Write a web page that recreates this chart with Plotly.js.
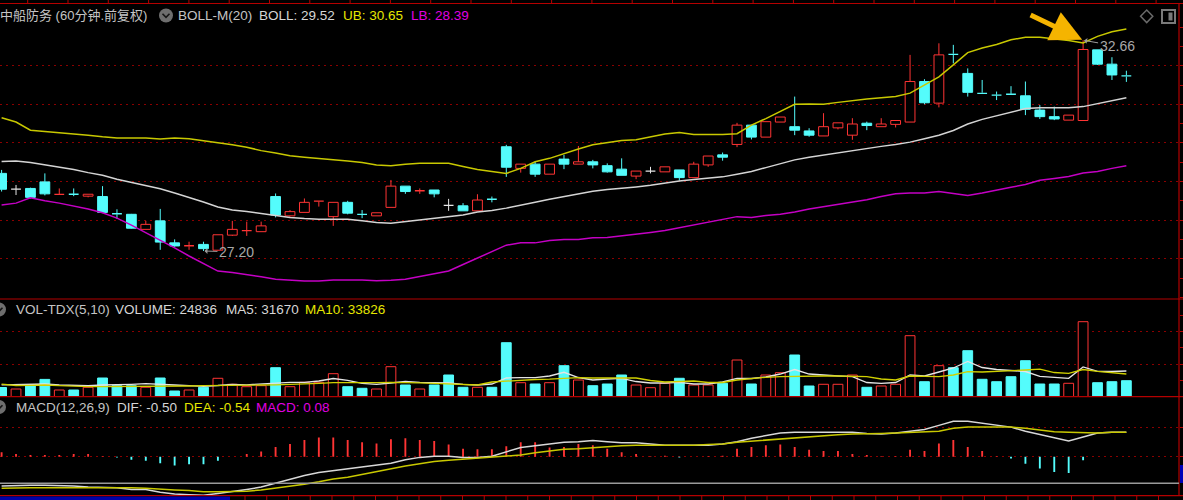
<!DOCTYPE html>
<html><head><meta charset="utf-8">
<script src="https://cdn.plot.ly/plotly-3.0.1.min.js"></script>
<style>html,body{margin:0;padding:0;background:#000;}#chart{width:1183px;height:500px;}</style>
</head><body><div id="chart"></div>
<script>
// ---------- DATA (60-minute bars, 中船防务) ----------
const openP = [29.21,28.80,28.82,28.99,28.66,28.68,28.62,28.61,28.18,28.15,
27.76,27.98,27.41,27.32,27.37,27.22,27.61,27.72,27.70,28.61,
28.11,28.20,28.48,28.09,28.46,28.16,28.11,28.33,28.88,28.75,
28.78,28.38,28.37,28.24,28.55,29.90,29.34,29.45,29.19,29.58,
29.45,29.51,29.41,29.32,29.14,29.27,29.25,29.30,29.10,29.43,
29.69,29.96,30.46,30.15,30.54,30.42,30.31,30.18,30.39,30.20,
30.51,30.42,30.48,30.54,31.59,31.03,32.31,31.80,31.30,31.25,
31.27,31.22,30.85,30.68,30.59,30.58,32.41,32.04,31.75];
const closeP = [28.80,28.80,28.59,28.68,28.67,28.66,28.67,28.20,28.15,27.79,
27.89,27.43,27.33,27.35,27.26,27.62,27.76,27.73,27.85,28.13,
28.22,28.46,28.50,28.46,28.18,28.14,28.19,28.88,28.74,28.77,
28.68,28.38,28.24,28.52,28.53,29.37,29.45,29.19,29.45,29.45,
29.51,29.43,29.25,29.16,29.27,29.27,29.38,29.10,29.45,29.66,
29.63,30.46,30.15,30.55,30.67,30.33,30.20,30.42,30.52,30.49,
30.45,30.49,30.58,31.59,31.04,32.28,32.28,31.31,31.27,31.23,
31.25,30.87,30.68,30.62,30.72,32.42,32.04,31.76,31.72];
const highP = [29.30,28.91,28.84,29.21,28.82,28.82,28.67,28.88,28.28,28.16,
27.98,28.29,27.50,27.44,27.44,27.62,27.98,27.96,27.96,28.69,
28.26,28.56,28.50,28.46,28.50,28.26,28.19,29.04,28.88,28.82,
28.78,28.55,28.44,28.67,28.61,29.95,29.45,29.51,29.45,29.69,
29.92,29.56,29.47,29.60,29.27,29.38,29.38,29.30,29.51,29.66,
29.75,30.52,30.46,30.55,30.67,31.20,30.38,30.77,30.52,30.64,
30.55,30.64,30.58,32.28,31.65,32.58,32.54,31.93,31.63,31.33,
31.47,31.59,30.98,30.94,30.72,32.66,32.41,32.22,31.87];
const lowP = [28.74,28.65,28.56,28.64,28.65,28.62,28.59,28.18,28.03,27.78,
27.76,27.23,27.31,27.23,27.20,27.21,27.59,27.59,27.70,28.07,
28.09,28.20,28.35,27.85,28.15,28.05,28.11,28.33,28.68,28.68,
28.59,28.24,28.24,28.24,28.46,29.12,29.23,29.12,29.19,29.32,
29.45,29.34,29.23,29.16,29.06,29.21,29.25,29.02,29.10,29.38,
29.54,29.89,30.09,30.15,30.54,30.20,30.16,30.18,30.35,30.08,
30.33,30.42,30.40,30.54,31.00,30.92,32.06,31.20,31.27,31.11,
31.25,30.72,30.62,30.59,30.59,30.58,32.02,31.63,31.58];
const bollUB = [30.65,30.54,30.33,30.30,30.27,30.24,30.20,30.16,30.13,30.13,
30.13,30.10,30.13,30.11,30.06,30.01,29.95,29.89,29.80,29.74,
29.67,29.63,29.60,29.56,29.53,29.49,29.43,29.41,29.45,29.47,
29.47,29.47,29.39,29.31,29.26,29.21,29.34,29.51,29.60,29.73,
29.84,29.95,30.01,30.06,30.08,30.15,30.23,30.27,30.22,30.22,
30.22,30.24,30.46,30.63,30.81,31.00,31.01,31.00,31.05,31.10,
31.14,31.17,31.20,31.29,31.50,31.71,32.02,32.34,32.46,32.55,
32.67,32.74,32.74,32.70,32.65,32.59,32.76,32.88,32.95];
const bollMid = [29.52,29.53,29.49,29.43,29.38,29.31,29.23,29.16,29.06,28.98,
28.90,28.81,28.70,28.59,28.47,28.34,28.26,28.22,28.17,28.12,
28.07,28.04,28.02,28.02,28.02,27.98,27.94,27.92,27.96,28.00,
28.04,28.08,28.13,28.21,28.25,28.31,28.38,28.46,28.54,28.61,
28.69,28.75,28.79,28.82,28.86,28.90,28.96,29.01,29.05,29.08,
29.12,29.19,29.26,29.36,29.47,29.56,29.63,29.69,29.74,29.80,
29.85,29.91,29.96,30.02,30.11,30.20,30.32,30.49,30.61,30.70,
30.79,30.89,30.91,30.91,30.91,30.94,31.02,31.09,31.17];
const bollLB = [28.39,28.44,28.58,28.50,28.44,28.36,28.29,28.19,28.05,27.87,
27.68,27.48,27.28,27.07,26.88,26.68,26.64,26.59,26.53,26.47,
26.44,26.42,26.42,26.45,26.45,26.45,26.43,26.44,26.47,26.54,
26.62,26.68,26.85,27.02,27.18,27.35,27.41,27.41,27.47,27.50,
27.50,27.54,27.55,27.59,27.63,27.68,27.73,27.80,27.87,27.94,
28.01,28.09,28.07,28.12,28.15,28.21,28.29,28.35,28.42,28.48,
28.53,28.61,28.68,28.70,28.70,28.74,28.69,28.64,28.70,28.78,
28.85,28.92,29.03,29.08,29.13,29.22,29.26,29.34,29.41];
const volume = [24836,20800,29700,46700,18100,18100,25400,50500,29700,29700,
25400,50500,15400,18100,25400,49700,33500,27000,29700,78300,
27000,38900,38900,62100,27000,22700,20800,81000,31600,20800,
31600,58600,25400,25400,25400,145800,37800,34300,37800,83700,
45100,29700,34300,58600,31600,24300,36200,49700,31600,31600,
36200,99100,34300,58600,64800,112600,28900,33500,33500,58600,
25400,28900,33500,164700,40500,83700,78300,124200,47000,40500,
54000,97200,34300,34300,36200,202500,37800,40500,43200];
const volMA5 = [31670,32100,32900,34300,31600,29700,29700,31600,33500,33500,
35100,34300,31600,29700,28100,30200,33500,32100,34300,37000,
38900,38900,42400,49100,44300,36200,33500,37000,41600,38900,
38900,37000,33500,31600,34300,50500,51300,51300,55900,65900,
51800,45100,47800,49700,41000,37000,37000,38900,34300,34300,
39700,49700,49100,53200,61300,73400,61300,57800,55900,54000,
38300,36200,38300,58600,55900,66700,77500,95000,78800,73400,
70700,68000,55100,51800,49700,80200,68600,68000,69400];
const volMA10 = [33826,30200,30800,31600,29700,28100,27000,27000,27000,27500,
28900,28400,27500,28900,29700,29700,29700,30800,31600,32100,
32900,33500,36200,37800,37800,36500,38100,38900,38900,37500,
36200,34300,33500,31600,39700,42400,45100,46400,47300,48600,
51300,50500,50500,49700,50500,43700,39700,41000,42400,38300,
38300,45100,49100,52400,54000,55100,55900,55900,55900,55100,
54000,47800,45100,55900,55100,54000,58600,67500,66700,68000,
69400,72100,74300,65300,63200,73400,68600,64800,61300];
const macdDIF = [-0.50,-0.49,-0.49,-0.49,-0.49,-0.50,-0.52,-0.53,-0.53,-0.56,
-0.56,-0.61,-0.64,-0.65,-0.66,-0.63,-0.60,-0.56,-0.52,-0.45,
-0.39,-0.32,-0.27,-0.24,-0.21,-0.18,-0.15,-0.11,-0.05,-0.01,
0.01,0.01,-0.01,-0.01,0.01,0.08,0.16,0.19,0.22,0.25,
0.26,0.28,0.26,0.24,0.24,0.22,0.20,0.20,0.20,0.20,
0.22,0.26,0.32,0.36,0.41,0.42,0.42,0.42,0.42,0.42,
0.40,0.39,0.41,0.44,0.47,0.54,0.61,0.61,0.58,0.55,
0.51,0.44,0.38,0.32,0.27,0.34,0.41,0.42,0.42];
const macdDEA = [-0.54,-0.53,-0.53,-0.53,-0.53,-0.53,-0.52,-0.52,-0.52,-0.53,
-0.54,-0.56,-0.57,-0.58,-0.60,-0.60,-0.60,-0.59,-0.57,-0.54,
-0.51,-0.47,-0.43,-0.38,-0.35,-0.30,-0.26,-0.21,-0.16,-0.12,
-0.08,-0.06,-0.04,-0.03,0.00,0.01,0.03,0.07,0.10,0.13,
0.14,0.16,0.18,0.19,0.20,0.20,0.20,0.19,0.20,0.21,
0.22,0.25,0.27,0.29,0.31,0.33,0.34,0.36,0.38,0.39,
0.39,0.40,0.41,0.42,0.42,0.44,0.49,0.51,0.51,0.51,
0.51,0.49,0.46,0.43,0.42,0.41,0.41,0.42,0.42];
const macdBar = [0.08,0.05,0.03,0.03,0.03,0.05,0.05,0.01,-0.01,-0.05,
-0.07,-0.11,-0.15,-0.13,-0.13,-0.07,0.00,0.05,0.09,0.17,
0.22,0.29,0.33,0.33,0.29,0.25,0.23,0.30,0.32,0.29,
0.27,0.21,0.14,0.13,0.13,0.18,0.25,0.25,0.16,0.17,
0.22,0.20,0.14,0.08,0.05,0.01,0.02,-0.01,0.00,0.01,
0.02,0.14,0.17,0.20,0.21,0.17,0.12,0.10,0.10,0.05,
0.03,0.01,0.01,0.12,0.10,0.23,0.29,0.17,0.10,0.01,
-0.03,-0.12,-0.20,-0.26,-0.28,-0.06,0.00,0.00,0.00];
const lowLabel = '27.20', highLabel = '32.66';
const lowIdx = 14, highIdx = 75;

// ---------- STYLE / GEOMETRY ----------
const W = 1183, H = 500, PW = 1179;
const px = v => v / PW, py = v => 1 - v / H;
const RED = '#ff3434', CYAN = '#54fcfc', WHITE = '#e6e6e6';
const GRID = '#8a0000', BORDER = '#b40000';
const N = openP.length;
const idx = openP.map((_, i) => i);
const HALF = 0.34;

function dir(i) { return closeP[i] > openP[i] ? 1 : (closeP[i] < openP[i] ? -1 : 0); }
function volUp(i) { const d = dir(i); if (d !== 0) return d > 0; return i === 0 || closeP[i] >= closeP[i - 1]; }
const colOf = d => d > 0 ? RED : (d < 0 ? CYAN : WHITE);

// bodies
const bX = [], bBase = [], bH = [], bFill = [], bLine = [];
const flat = { '1': { x: [], y: [] }, '-1': { x: [], y: [] }, '0': { x: [], y: [] } };
const wick = { '1': { x: [], y: [] }, '-1': { x: [], y: [] }, '0': { x: [], y: [] } };
for (let i = 0; i < N; i++) {
  const d = dir(i), top = Math.max(openP[i], closeP[i]), bot = Math.min(openP[i], closeP[i]);
  const k = String(d);
  if (top - bot < 0.035) {
    const m = (top + bot) / 2;
    flat[k].x.push(i - HALF, i + HALF, null); flat[k].y.push(m, m, null);
  } else {
    bX.push(i); bBase.push(bot); bH.push(top - bot);
    bFill.push(d > 0 ? '#000000' : CYAN); bLine.push(d > 0 ? RED : CYAN);
  }
  if (highP[i] > top) { wick[k].x.push(i, i, null); wick[k].y.push(highP[i], top, null); }
  if (lowP[i] < bot) { wick[k].x.push(i, i, null); wick[k].y.push(bot, lowP[i], null); }
}

const traces = [];
traces.push({ type: 'bar', x: bX, base: bBase, y: bH, width: 0.68, xaxis: 'x', yaxis: 'y',
  marker: { color: bFill, line: { color: bLine, width: 1 } }, hoverinfo: 'skip' });
for (const k of ['1', '-1', '0']) {
  const c = colOf(Number(k));
  traces.push({ type: 'scatter', mode: 'lines', x: wick[k].x, y: wick[k].y, xaxis: 'x', yaxis: 'y', line: { color: c, width: 1 }, hoverinfo: 'skip' });
  traces.push({ type: 'scatter', mode: 'lines', x: flat[k].x, y: flat[k].y, xaxis: 'x', yaxis: 'y', line: { color: c, width: 1.3 }, hoverinfo: 'skip' });
}
traces.push({ type: 'scatter', mode: 'lines', x: idx, y: bollUB, xaxis: 'x', yaxis: 'y', line: { color: '#c8c800', width: 1.5 } });
traces.push({ type: 'scatter', mode: 'lines', x: idx, y: bollMid, xaxis: 'x', yaxis: 'y', line: { color: '#d4d4d4', width: 1.5 } });
traces.push({ type: 'scatter', mode: 'lines', x: idx, y: bollLB, xaxis: 'x', yaxis: 'y', line: { color: '#c400c4', width: 1.5 } });

// volume
const vUp = idx.map(volUp);
traces.push({ type: 'bar', x: idx, y: volume, width: 0.68, xaxis: 'x', yaxis: 'y2',
  marker: { color: vUp.map(u => u ? '#000000' : CYAN), line: { color: vUp.map(u => u ? RED : CYAN), width: 1 } } });
traces.push({ type: 'scatter', mode: 'lines', x: idx, y: volMA5, xaxis: 'x', yaxis: 'y2', line: { color: '#e4e4e4', width: 1.3 } });
traces.push({ type: 'scatter', mode: 'lines', x: idx, y: volMA10, xaxis: 'x', yaxis: 'y2', line: { color: '#d0d000', width: 1.3 } });

// MACD
traces.push({ type: 'bar', x: idx, y: macdBar, width: 0.13, xaxis: 'x', yaxis: 'y3',
  marker: { color: macdBar.map(v => v >= 0 ? RED : CYAN), line: { width: 0 } } });
traces.push({ type: 'scatter', mode: 'lines', x: idx, y: macdDIF, xaxis: 'x', yaxis: 'y3', line: { color: '#d8d8d8', width: 1.5 } });
traces.push({ type: 'scatter', mode: 'lines', x: idx, y: macdDEA, xaxis: 'x', yaxis: 'y3', line: { color: '#c8c800', width: 1.5 } });

// ---------- LAYOUT ----------
const xPerBar = 14.42, x0px = 1.6;
const xRange = [(0 - x0px) / xPerBar, (PW - x0px) / xPerBar];
const pxPerPrice = 38.6, yGrid27 = 258.7;
const priceAt = y => 27 + (yGrid27 - y) / pxPerPrice;
const volPerPx = 2700, volBase = 396.7;
const macdPx = 58.2, macdZero = 456.8;

const tickCommon = { showticklabels: false, zeroline: false, fixedrange: true, side: 'right',
  ticks: 'outside', ticklen: 4, tickwidth: 1, tickcolor: BORDER,
  gridcolor: GRID, griddash: '2px,4px', gridwidth: 1, showline: false };

const priceMinor = [];
for (let v = 26.0; v <= 33.01; v += 0.5) if (Math.abs(v - Math.round(v)) > 0.1 || v < 27 || v > 32) priceMinor.push(+v.toFixed(1));

const layout = {
  width: W, height: H, margin: { l: 0, r: W - PW, t: 0, b: 0 },
  paper_bgcolor: '#000', plot_bgcolor: '#000', showlegend: false, barmode: 'overlay',
  font: { family: 'Liberation Sans, Noto Sans CJK SC, sans-serif', color: '#c8c8c8', size: 13 },
  xaxis: { domain: [0, 1], range: xRange, showgrid: false, zeroline: false, showticklabels: false, ticks: '', fixedrange: true, anchor: 'y3' },
  yaxis: Object.assign({}, tickCommon, { domain: [py(299), py(3.5)], range: [priceAt(299), priceAt(3.5)],
    tickmode: 'array', tickvals: [27, 28, 29, 30, 31, 32],
    minor: { tickmode: 'array', tickvals: priceMinor, ticks: 'outside', ticklen: 4, tickcolor: BORDER, showgrid: false } }),
  yaxis2: Object.assign({}, tickCommon, { domain: [py(396.7), py(299)], range: [0, (volBase - 299) * volPerPx],
    tickmode: 'array', tickvals: [32.5 * volPerPx, 65 * volPerPx],
    minor: { tickmode: 'array', tickvals: [16.25 * volPerPx, 48.75 * volPerPx, 81.25 * volPerPx], ticks: 'outside', ticklen: 4, tickcolor: BORDER, showgrid: false } }),
  yaxis3: Object.assign({}, tickCommon, { domain: [py(495.7), py(396.7)], range: [-(495.7 - macdZero) / macdPx, (macdZero - 396.7) / macdPx],
    tickmode: 'array', tickvals: [0, 0.5] }),
  shapes: [], annotations: []
};

const S = layout.shapes, A = layout.annotations;
const hline = (y, c, w) => S.push({ type: 'line', xref: 'paper', yref: 'paper', x0: 0, x1: W / PW, y0: py(y), y1: py(y), line: { color: c, width: w } });
hline(3.5, BORDER, 1.2); hline(299, BORDER, 1.2); hline(396.7, BORDER, 1.2); hline(495.7, BORDER, 1.2);
S.push({ type: 'line', xref: 'paper', yref: 'paper', x0: 1, x1: 1, y0: py(495.7), y1: py(3.5), line: { color: BORDER, width: 1.2 } });
// grey reference line in MACD panel
S.push({ type: 'line', xref: 'paper', yref: 'y3', x0: 0, x1: 1, y0: -(483.3 - macdZero) / macdPx, y1: -(483.3 - macdZero) / macdPx, line: { color: '#9a9a9a', width: 1.5 } });
// top ruler ticks
for (let k = -21; k <= 7; k++) { const x = 874 + 40.3 * k; S.push({ type: 'line', xref: 'paper', yref: 'paper', x0: px(x), x1: px(x), y0: py(0), y1: py(3.5), line: { color: BORDER, width: 1 } }); }
// bottom ruler ticks
for (let x = 245; x < PW; x += 21.75) S.push({ type: 'line', xref: 'paper', yref: 'paper', x0: px(x), x1: px(x), y0: py(495.7), y1: py(500), line: { color: BORDER, width: 1 } });
// blue status strip bottom-left and small right marker
S.push({ type: 'rect', xref: 'paper', yref: 'paper', x0: 0, x1: px(230), y0: py(500), y1: py(496.6), fillcolor: '#0000a8', line: { width: 0 } });
S.push({ type: 'rect', xref: 'paper', yref: 'paper', x0: px(1180), x1: px(1183), y0: py(483), y1: py(465), fillcolor: '#0000b8', line: { width: 0 } });
// header icons
const circ = (cx, cy, r) => S.push({ type: 'circle', xref: 'paper', yref: 'paper', x0: px(cx - r), x1: px(cx + r), y0: py(cy + r), y1: py(cy - r), fillcolor: '#6e6e6e', line: { width: 0 } });
const chev = (cx, cy) => S.push({ type: 'path', xref: 'paper', yref: 'paper', path: `M ${px(cx - 3.5)},${py(cy - 1.8)} L ${px(cx)},${py(cy + 1.8)} L ${px(cx + 3.5)},${py(cy - 1.8)}`, line: { color: '#161616', width: 1.6 } });
circ(166, 15.5, 7); chev(166, 15.5);
circ(-1, 309.5, 7); chev(-1, 309.5);
circ(-1, 407, 7); chev(-1, 407);
// top-right icons
S.push({ type: 'path', xref: 'paper', yref: 'paper', path: `M ${px(1146.7)},${py(10)} L ${px(1152.8)},${py(16.3)} L ${px(1146.7)},${py(22.6)} L ${px(1140.6)},${py(16.3)} Z`, line: { color: '#6a6a6a', width: 1.5 } });
S.push({ type: 'rect', xref: 'paper', yref: 'paper', x0: px(1162), x1: px(1175), y0: py(23), y1: py(10), line: { color: '#7a7a7a', width: 2 }, fillcolor: 'rgba(0,0,0,0)' });
S.push({ type: 'rect', xref: 'paper', yref: 'paper', x0: px(1168.5), x1: px(1172.5), y0: py(20.5), y1: py(12.5), line: { width: 0 }, fillcolor: '#7a7a7a' });

// header texts
const txt = (x, y, t, c, sz) => A.push({ xref: 'paper', yref: 'paper', x: px(x), y: py(y), xanchor: 'left', yanchor: 'middle', text: t, showarrow: false, borderpad: 0,
  font: { family: 'Liberation Sans, Noto Sans CJK SC, sans-serif', size: sz || 13.5, color: c } });
txt(-1, 15.5, '中船防务 (60分钟.前复权)', '#c4c4c4', 13);
txt(177, 15.5, 'BOLL-M(20)', '#c4c4c4');
txt(258, 15.5, 'BOLL: 29.52', '#d6d6d6');
txt(342, 15.5, 'UB: 30.65', '#e6e600');
txt(410, 15.5, 'LB: 28.39', '#e000e0');
txt(15, 309.5, 'VOL-TDX(5,10)', '#c4c4c4');
txt(114, 309.5, 'VOLUME: 24836', '#d6d6d6');
txt(225, 309.5, 'MA5: 31670', '#d6d6d6');
txt(304, 309.5, 'MA10: 33826', '#e6e600');
txt(15, 407, 'MACD(12,26,9)', '#c4c4c4');
txt(116, 407, 'DIF: -0.50', '#d6d6d6');
txt(183, 407, 'DEA: -0.54', '#e6e600');
txt(255, 407, 'MACD: 0.08', '#e000e0');

// price extreme labels and highlight arrow
A.push({ xref: 'x', yref: 'y', x: highIdx, y: highP[highIdx], text: '', showarrow: true, ax: -54, ay: -26,
  arrowcolor: '#f5b400', arrowwidth: 5, arrowhead: 2, arrowsize: 1.25, standoff: 1 });
A.push({ xref: 'x', yref: 'y', x: lowIdx, y: lowP[lowIdx], text: lowLabel, showarrow: true, ax: 33, ay: 1,
  arrowcolor: '#9c9c9c', arrowwidth: 1, arrowhead: 1, arrowsize: 1, standoff: 1,
  font: { family: 'Liberation Sans, sans-serif', size: 14, color: '#a8a8a8' } });
A.push({ xref: 'x', yref: 'y', x: highIdx, y: highP[highIdx], text: highLabel, showarrow: true, ax: 34, ay: 6,
  arrowcolor: '#9c9c9c', arrowwidth: 1, arrowhead: 1, arrowsize: 1, standoff: 1,
  font: { family: 'Liberation Sans, sans-serif', size: 14, color: '#a8a8a8' } });

Plotly.newPlot('chart', traces, layout, { staticPlot: true, displayModeBar: false });
</script>
</body></html>
